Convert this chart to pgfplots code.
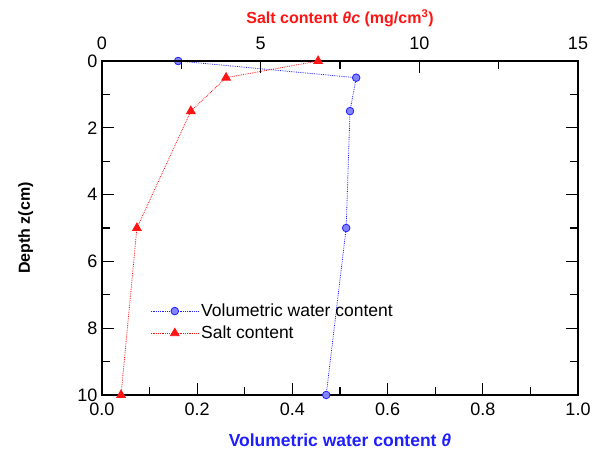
\documentclass[border=0pt]{standalone}
\usepackage{fontspec}
\setmainfont{Liberation Sans}
\usepackage{pgfplots}
\pgfplotsset{compat=1.18}
\definecolor{wblue}{RGB}{30,30,255}
\definecolor{sred}{RGB}{255,20,20}
\begin{document}
\begin{tikzpicture}
\pgfplotsset{
  every axis/.append style={
    scale only axis, width=476bp, height=334bp,
    at={(0,0)}, anchor=south west,
    tick align=inside,
    major tick length=12bp, minor tick length=8bp,
    axis line style={line width=1.6bp},
    every tick/.style={line width=1.3bp, black},
    tick label style={font=\fontsize{18bp}{21bp}\selectfont},
    /pgf/number format/assume math mode=true,
  }
}
\begin{axis}[
  xmin=0, xmax=1, ymin=0, ymax=10, y dir=reverse,
  xtick={0,0.2,...,1.0}, minor x tick num=1,
  xticklabel style={/pgf/number format/fixed, /pgf/number format/fixed zerofill, /pgf/number format/precision=1, yshift=-4bp},
  yticklabel style={xshift=-1bp},
  ytick={0,2,...,10}, minor y tick num=1,
  xtick pos=bottom, ytick pos=both, yticklabel pos=left,
  xlabel={\textbf{Volumetric water content \textit{θ}}},
  xlabel style={font=\fontsize{17.5bp}{20bp}\selectfont, text=wblue, at={(axis description cs:0.5,-0.135)}, anchor=center},
  ylabel={\textbf{Depth z(cm)}},
  ylabel style={font=\fontsize{16bp}{19bp}\selectfont, at={(axis description cs:-0.16,0.5)}, anchor=center},
]
\addplot[wblue, densely dotted, line width=0.8bp, mark=*, mark size=3.8bp,
  mark options={solid, fill=wblue!55, draw=wblue, line width=0.8bp}]
  coordinates {(0.160,0) (0.534,0.5) (0.521,1.5) (0.513,5) (0.471,10)};
\end{axis}
\begin{axis}[
  xmin=0, xmax=15, ymin=0, ymax=10, y dir=reverse,
  axis x line*=top, hide y axis,
  xtick={0,5,10,15}, minor x tick num=1,
  xticklabel style={yshift=8bp},
  xlabel={\textbf{Salt content \textit{θc} (mg/cm\textsuperscript{3})}},
  xlabel style={font=\fontsize{16bp}{19bp}\selectfont, text=sred, at={(axis description cs:0.5,1.129)}, anchor=center},
  legend style={draw=none, fill=none, font=\fontsize{17.5bp}{20bp}\selectfont,
    at={(axis description cs:0.095,0.285)}, anchor=north west, row sep=4bp,
    /tikz/every even column/.append style={column sep=3bp}},
  legend cell align=left,
  legend image code/.code={\draw[mark repeat=2, mark phase=2, #1] plot coordinates {(0bp,0bp) (24bp,0bp) (48bp,0bp)};},
]
\addlegendimage{wblue, densely dotted, line width=0.8bp, mark=*, mark size=3.8bp,
  mark options={solid, fill=wblue!55, draw=wblue, line width=0.8bp}}
\addlegendentry{Volumetric water content}
\addplot[sred, densely dotted, line width=0.8bp, mark=triangle*, mark size=5bp,
  mark options={solid, fill=sred, draw=sred}]
  coordinates {(6.81,0) (3.91,0.5) (2.80,1.5) (1.10,5) (0.60,10)};
\addlegendentry{Salt content}
\end{axis}
\pgfresetboundingbox
\path[use as bounding box] (-102bp,-64bp) rectangle (495bp,395bp);
\end{tikzpicture}
\end{document}
